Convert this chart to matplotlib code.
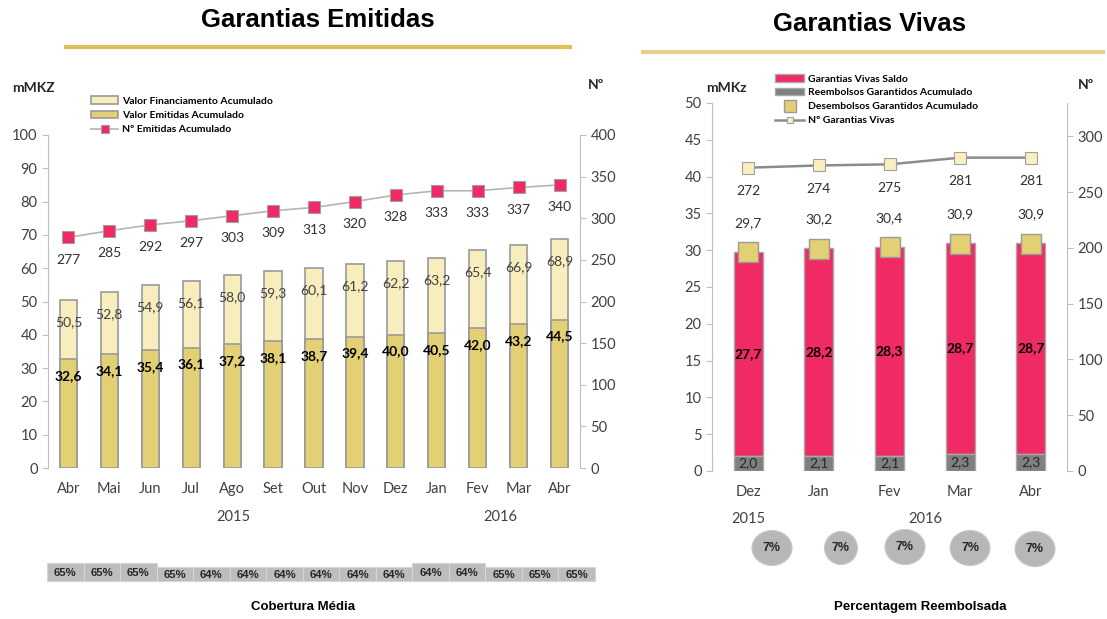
import numpy as np
import matplotlib.pyplot as plt
from matplotlib.lines import Line2D
from matplotlib.patches import Rectangle, Ellipse

plt.rcParams['font.family'] = ['Lato', 'DejaVu Sans']

# ---- data: Garantias Emitidas
meses_e = ['Abr', 'Mai', 'Jun', 'Jul', 'Ago', 'Set', 'Out', 'Nov', 'Dez', 'Jan', 'Fev', 'Mar', 'Abr']
financiamento = [50.5, 52.8, 54.9, 56.1, 58.0, 59.3, 60.1, 61.2, 62.2, 63.2, 65.4, 66.9, 68.9]
emitidas = [32.6, 34.1, 35.4, 36.1, 37.2, 38.1, 38.7, 39.4, 40.0, 40.5, 42.0, 43.2, 44.5]
n_emitidas = [277, 285, 292, 297, 303, 309, 313, 320, 328, 333, 333, 337, 340]
cobertura = ['65%', '65%', '65%', '65%', '64%', '64%', '64%', '64%', '64%', '64%',
             '64%', '64%', '65%', '65%', '65%']

# ---- data: Garantias Vivas
meses_v = ['Dez', 'Jan', 'Fev', 'Mar', 'Abr']
saldo = [27.7, 28.2, 28.3, 28.7, 28.7]
reembolsos = [2.0, 2.1, 2.1, 2.3, 2.3]
desembolsos = [29.7, 30.2, 30.4, 30.9, 30.9]
n_vivas = [272, 274, 275, 281, 281]
perc_reemb = ['7%', '7%', '7%', '7%', '7%']

W, H = 1107, 619
fig = plt.figure(figsize=(W / 100, H / 100), dpi=100)

def fx(px):
    return px / W

def fy(py):
    return 1 - py / H

light = '#F8EDBD'
gold = '#E3CF74'
pink = '#EF2A64'
dgrey = '#7F7F7F'
cream = '#F9EFC0'
edge = '#9A9A9A'
axcol = '#BFBFBF'
txt = '#404040'

def style(ax, ax2):
    for a in (ax, ax2):
        for s in ('top', 'bottom'):
            a.spines[s].set_visible(False)
        a.spines['left'].set_color(axcol)
        a.spines['right'].set_color(axcol)
        a.tick_params(axis='y', colors=txt, labelsize=10.5, length=4, color=axcol)
    ax.tick_params(axis='x', length=0, labelsize=10.5, colors=txt, pad=10)
    ax2.spines['left'].set_visible(False)
    ax.spines['right'].set_visible(False)

# ================= left chart
ax = fig.add_axes([fx(48), fy(468), fx(580) - fx(48), fy(135) - fy(468)])
x = np.arange(len(meses_e))
b1 = ax.bar(x, financiamento, width=0.42, color=light, edgecolor=edge, lw=1.2,
            label='Valor Financiamento Acumulado')
b2 = ax.bar(x, emitidas, width=0.42, color=gold, edgecolor=edge, lw=1.2,
            label='Valor Emitidas Acumulado')
ax.set_xlim(-0.5, 12.5)
ax.set_ylim(0, 100)
ax.set_yticks(np.arange(0, 101, 10))
ax.set_xticks(x)
ax.set_xticklabels(meses_e)
for i in range(len(x)):
    ax.text(x[i], financiamento[i] - 6.7, f'{financiamento[i]:.1f}'.replace('.', ','),
            ha='center', va='center', fontsize=10, color='#404040')
    ax.text(x[i], emitidas[i] - 5, f'{emitidas[i]:.1f}'.replace('.', ','),
            ha='center', va='center', fontsize=10, color='black', fontweight='bold')

ax2 = ax.twinx()
l1, = ax2.plot(x, n_emitidas, color='#B5B5B5', lw=1.2, marker='s', ms=9,
               mfc=pink, mec='#A0A0A0', mew=0.8, label='Nº Emitidas Acumulado')
ax2.set_ylim(0, 400)
ax2.set_yticks(np.arange(0, 401, 50))
for i in range(len(x)):
    ax2.text(x[i], n_emitidas[i] - 27, str(n_emitidas[i]), ha='center', va='center',
             fontsize=10, color='#303030')
style(ax, ax2)

fig.legend(handles=[b1, b2, l1], loc='upper left', bbox_to_anchor=(fx(86), fy(91)),
           frameon=False, prop={'weight': 'bold', 'size': 7.5},
           handlelength=2.6, handleheight=0.7, labelspacing=0.5, borderpad=0,
           handletextpad=0.4, markerscale=0.65)

fig.text(fx(12), fy(88), 'mMKZ', fontsize=10, fontweight='bold', color='#262626', va='center')
fig.text(fx(588), fy(85), 'Nº', fontsize=10, fontweight='bold', color='#262626', va='center')
fig.text(fx(233), fy(517), '2015', fontsize=10.5, color=txt, ha='center', va='center')
fig.text(fx(500), fy(517), '2016', fontsize=10.5, color=txt, ha='center', va='center')

fig.text(fx(318), fy(20), 'Garantias Emitidas', fontsize=18.5, fontweight='bold',
         family='Liberation Sans', ha='center', va='center')
fig.add_artist(Line2D([fx(66), fx(570)], [fy(47), fy(47)], color='#DEC05A', lw=3))

# cobertura boxes
bw = (595 - 47) / len(cobertura)
raised = [0, 1, 2, 10, 11]
for i, c in enumerate(cobertura):
    top = 563 if i in raised else 567
    fig.add_artist(Rectangle((fx(47 + i * bw), fy(581)), fx(bw), fy(top) - fy(581),
                             facecolor='#BDBDBD', edgecolor='#D6D6D6', lw=0.8))
    fig.text(fx(47 + (i + 0.5) * bw), fy((top + 581) / 2 + 1), c, fontsize=8.2,
             fontweight='bold', family='Liberation Sans', color='#262626',
             ha='center', va='center')
fig.text(fx(303), fy(607), 'Cobertura Média', fontsize=9.5, fontweight='bold',
         family='Liberation Sans', ha='center', va='center')

# ================= right chart
ax3 = fig.add_axes([fx(712), fy(471), fx(1067) - fx(712), fy(103) - fy(471)])
xv = np.arange(len(meses_v))
s_bar = ax3.bar(xv, saldo, bottom=reembolsos, width=0.41, color=pink, edgecolor='#A8A8A8',
                lw=1, label='Garantias Vivas Saldo')
r_bar = ax3.bar(xv, reembolsos, width=0.41, color=dgrey, edgecolor='#A8A8A8', lw=1,
                label='Reembolsos Garantidos Acumulado')
d_pts, = ax3.plot(xv, desembolsos, ls='none', marker='s', ms=14.5, mfc=gold, mec='#9A9A9A',
                  mew=1, label='Desembolsos Garantidos Acumulado')
ax3.set_xlim(-0.51, 4.51)
ax3.set_ylim(0, 50)
ax3.set_yticks(np.arange(0, 51, 5))
ax3.set_xticks(xv)
ax3.set_xticklabels(meses_v)
for i in range(len(xv)):
    ax3.text(xv[i], reembolsos[i] + saldo[i] / 2, f'{saldo[i]:.1f}'.replace('.', ','),
             ha='center', va='center', fontsize=10, fontweight='bold', color='black')
    ax3.text(xv[i], reembolsos[i] / 2, f'{reembolsos[i]:.1f}'.replace('.', ','),
             ha='center', va='center', fontsize=10, color='#262626')
    ax3.text(xv[i], desembolsos[i] + 4, f'{desembolsos[i]:.1f}'.replace('.', ','),
             ha='center', va='center', fontsize=10, color='#303030')

ax4 = ax3.twinx()
l2, = ax4.plot(xv, n_vivas, color='#8C8C8C', lw=1.8, marker='s', ms=9, mfc=cream,
               mec='#A0A0A0', mew=0.8, label='Nº Garantias Vivas')
ax4.set_ylim(0, 330)
ax4.set_yticks(np.arange(0, 301, 50))
for i in range(len(xv)):
    ax4.text(xv[i], n_vivas[i] - 21, str(n_vivas[i]), ha='center', va='center',
             fontsize=10, color='#303030')
style(ax3, ax4)

fig.legend(handles=[s_bar, r_bar, d_pts, l2], loc='upper left',
           bbox_to_anchor=(fx(770), fy(69)), frameon=False,
           prop={'weight': 'bold', 'size': 7.5}, handlelength=2.8, handleheight=0.7,
           labelspacing=0.45, borderpad=0, handletextpad=0.3, markerscale=0.55)

fig.text(fx(706), fy(88), 'mMKz', fontsize=10, fontweight='bold', color='#262626', va='center')
fig.text(fx(1078), fy(85), 'Nº', fontsize=10, fontweight='bold', color='#262626', va='center')
fig.text(fx(748), fy(519), '2015', fontsize=10.5, color=txt, ha='center', va='center')
fig.text(fx(925), fy(519), '2016', fontsize=10.5, color=txt, ha='center', va='center')

fig.text(fx(870), fy(24), 'Garantias Vivas', fontsize=18.5, fontweight='bold',
         family='Liberation Sans', ha='center', va='center')
fig.add_artist(Line2D([fx(643), fx(1103)], [fy(52), fy(52)], color='#E6D08A', lw=3))

# percentagem reembolsada circles
cx = [772, 841, 905, 970, 1035]
cy = [548, 548, 547, 548, 549]
ew = [40, 33, 40, 40, 40]
eh = [35, 33, 35, 35, 35]
for i, p in enumerate(perc_reemb):
    fig.add_artist(Ellipse((fx(cx[i]), fy(cy[i])), fx(ew[i]), eh[i] / H,
                           facecolor='#B7B7B7', edgecolor='#C8C8C8', lw=0.8))
    fig.text(fx(cx[i]), fy(cy[i]), p, fontsize=9, fontweight='bold',
             family='Liberation Sans', color='#262626', ha='center', va='center')
fig.text(fx(920), fy(607), 'Percentagem Reembolsada', fontsize=9.5, fontweight='bold',
         family='Liberation Sans', ha='center', va='center')

fig.savefig('out.png', dpi=100)
